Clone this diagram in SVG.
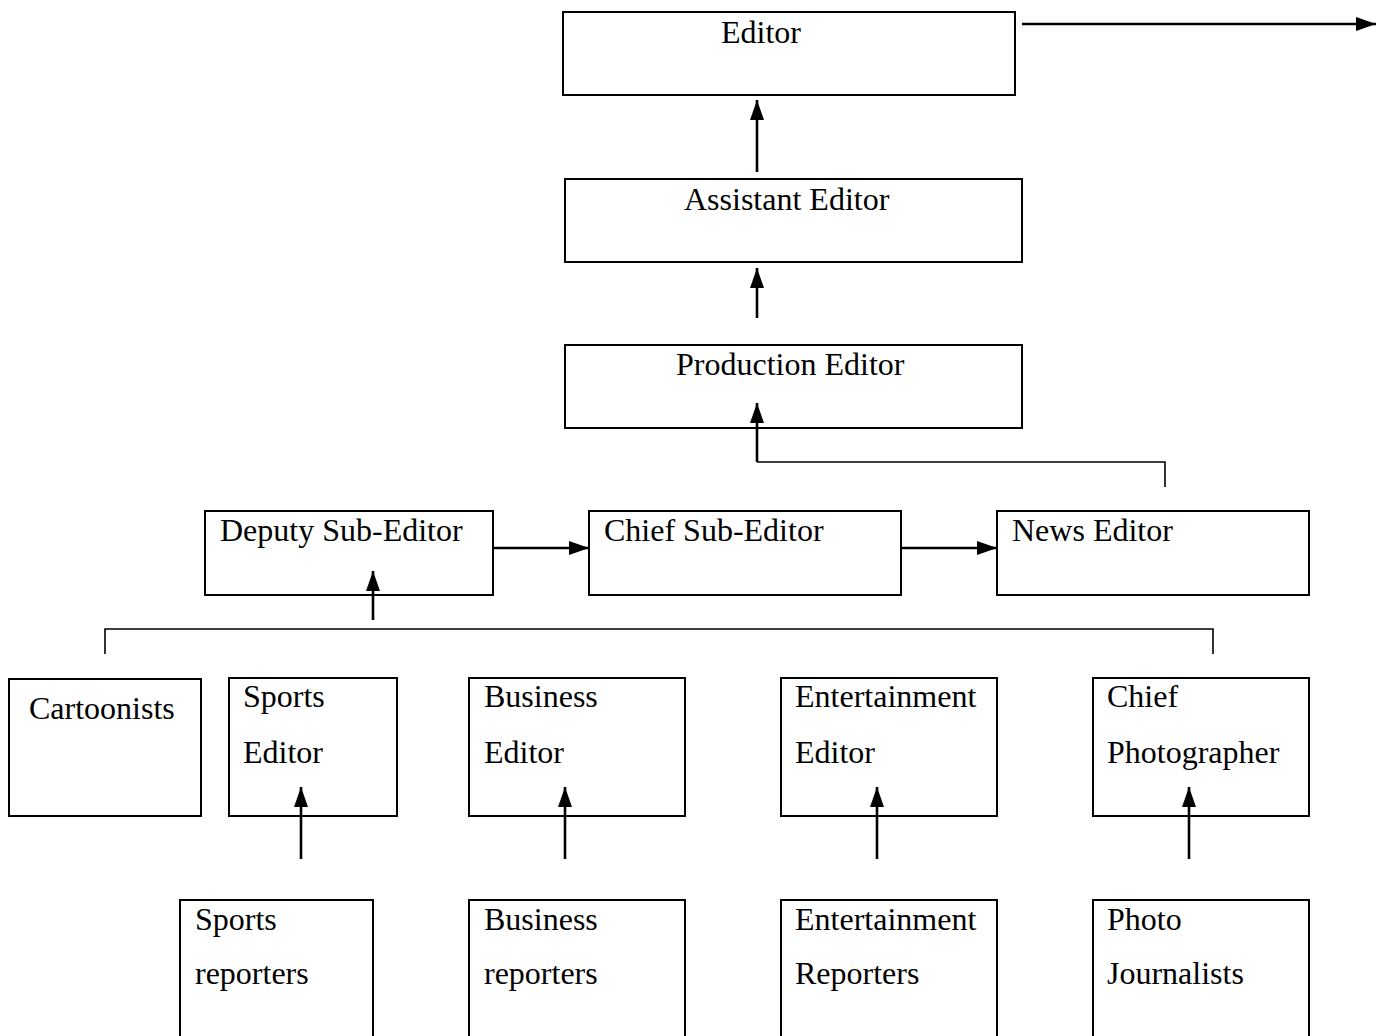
<svg xmlns="http://www.w3.org/2000/svg" width="1376" height="1036" viewBox="0 0 1376 1036">
<style>
.box{fill:#fff;stroke:#000;stroke-width:2}
.t{font-family:"Liberation Serif","Times New Roman",serif;font-size:32px;fill:#000}
.ln{fill:none;stroke:#000;stroke-width:2.6}
.br{fill:none;stroke:#000;stroke-width:1.6}
</style>
<defs>
<marker id="ah" markerUnits="userSpaceOnUse" markerWidth="20" markerHeight="14" refX="20" refY="7" orient="auto">
<path d="M0,0 L20,7 L0,14 Z" fill="#000"/>
</marker>
</defs>
<rect width="1376" height="1036" fill="#fff"/>
<g id="n-editor"><rect class="box" x="563" y="12" width="452" height="83"/><text class="t" x="721" y="43">Editor</text></g>
<g id="n-assistant"><rect class="box" x="565" y="179" width="457" height="83"/><text class="t" x="684" y="210">Assistant Editor</text></g>
<g id="n-production"><rect class="box" x="565" y="345" width="457" height="83"/><text class="t" x="676" y="375">Production Editor</text></g>
<g id="n-deputy"><rect class="box" x="205" y="511" width="288" height="84"/><text class="t" x="220" y="541">Deputy Sub-Editor</text></g>
<g id="n-chiefsub"><rect class="box" x="589" y="511" width="312" height="84"/><text class="t" x="604" y="541">Chief Sub-Editor</text></g>
<g id="n-news"><rect class="box" x="997" y="511" width="312" height="84"/><text class="t" x="1012" y="541">News Editor</text></g>
<g id="n-cartoonists"><rect class="box" x="9" y="679" width="192" height="137"/><text class="t" x="29" y="719">Cartoonists</text></g>
<g id="n-sportsed"><rect class="box" x="229" y="678" width="168" height="138"/><text class="t" x="243" y="707">Sports</text><text class="t" x="243" y="763">Editor</text></g>
<g id="n-bused"><rect class="box" x="469" y="678" width="216" height="138"/><text class="t" x="484" y="707">Business</text><text class="t" x="484" y="763">Editor</text></g>
<g id="n-ented"><rect class="box" x="781" y="678" width="216" height="138"/><text class="t" x="795" y="707">Entertainment</text><text class="t" x="795" y="763">Editor</text></g>
<g id="n-chiefphoto"><rect class="box" x="1093" y="678" width="216" height="138"/><text class="t" x="1107" y="707">Chief</text><text class="t" x="1107" y="763">Photographer</text></g>
<g id="n-sportsrep"><rect class="box" x="180" y="900" width="193" height="150"/><text class="t" x="195" y="930">Sports</text><text class="t" x="195" y="984">reporters</text></g>
<g id="n-busrep"><rect class="box" x="469" y="900" width="216" height="150"/><text class="t" x="484" y="930">Business</text><text class="t" x="484" y="984">reporters</text></g>
<g id="n-entrep"><rect class="box" x="781" y="900" width="216" height="150"/><text class="t" x="795" y="930">Entertainment</text><text class="t" x="795" y="984">Reporters</text></g>
<g id="n-photoj"><rect class="box" x="1093" y="900" width="216" height="150"/><text class="t" x="1107" y="930">Photo</text><text class="t" x="1107" y="984">Journalists</text></g>
<g id="connectors">
<line class="ln" x1="1022" y1="24" x2="1376" y2="24" marker-end="url(#ah)"/>
<line class="ln" x1="757" y1="172" x2="757" y2="100" marker-end="url(#ah)"/>
<line class="ln" x1="757" y1="318" x2="757" y2="268" marker-end="url(#ah)"/>
<line class="ln" x1="757" y1="462" x2="757" y2="403" marker-end="url(#ah)"/>
<polyline class="br" points="757,462 1165,462 1165,487"/>
<line class="ln" x1="493" y1="548" x2="589" y2="548" marker-end="url(#ah)"/>
<line class="ln" x1="901" y1="548" x2="997" y2="548" marker-end="url(#ah)"/>
<line class="ln" x1="373" y1="620" x2="373" y2="571" marker-end="url(#ah)"/>
<polyline class="br" points="105,654 105,629 1213,629 1213,654"/>
<line class="ln" x1="301" y1="859" x2="301" y2="787" marker-end="url(#ah)"/>
<line class="ln" x1="565" y1="859" x2="565" y2="787" marker-end="url(#ah)"/>
<line class="ln" x1="877" y1="859" x2="877" y2="787" marker-end="url(#ah)"/>
<line class="ln" x1="1189" y1="859" x2="1189" y2="787" marker-end="url(#ah)"/>
</g>
</svg>
